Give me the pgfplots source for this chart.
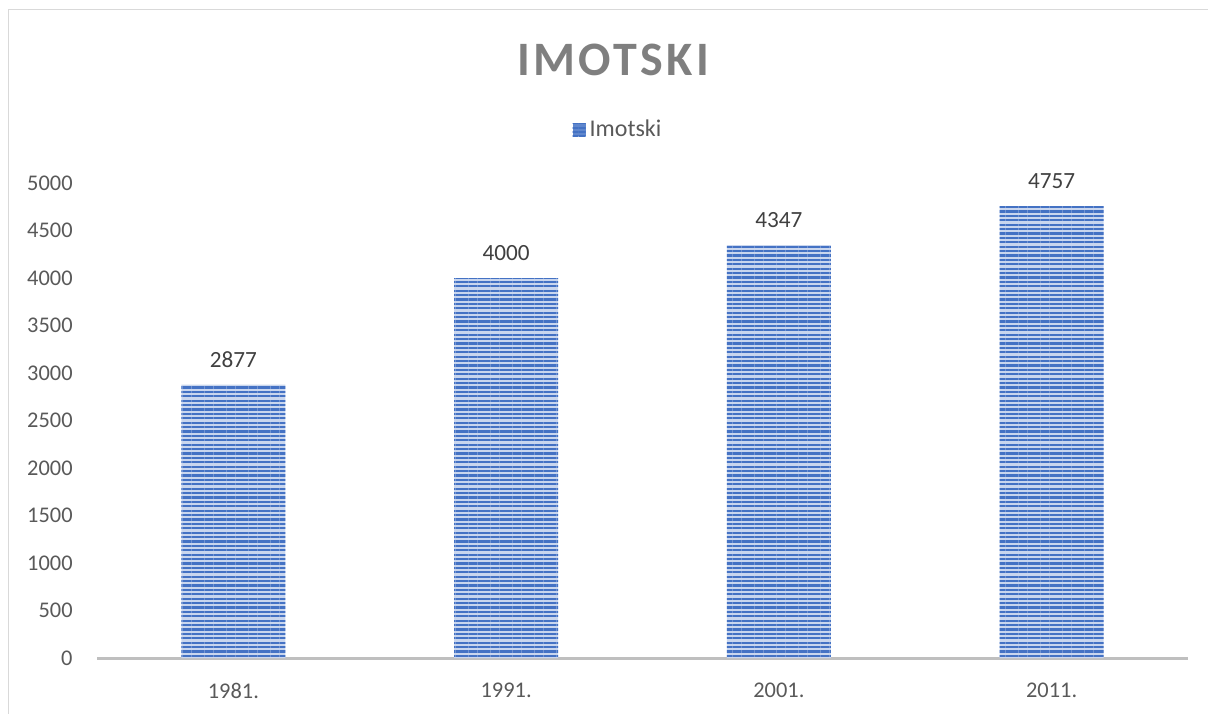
\documentclass[border=0pt]{standalone}
\usepackage{fontspec}
\setmainfont{Carlito}
\usepackage{pgfplots}
\pgfplotsset{compat=1.18}
\usetikzlibrary{patterns.meta}
\definecolor{barblue}{HTML}{4472C4}
\definecolor{barlight}{HTML}{C9D6EE}
\definecolor{tickgray}{HTML}{595959}
\definecolor{labgray}{HTML}{404040}
\definecolor{titlegray}{HTML}{7F7F7F}
\definecolor{axgray}{HTML}{BFBFBF}
\definecolor{framegray}{HTML}{D9D9D9}
\pgfkeys{/pgf/number format/.cd, 1000 sep={}, assume math mode=true}
\tikzset{stripes/.style={fill=barlight, postaction={pattern={Lines[angle=0,distance=2.2pt,line width=1.1pt]}, pattern color=barblue}}}
\begin{document}
\begin{tikzpicture}
\path[use as bounding box] (0,0) rectangle (604pt,356.5pt);
\draw[framegray, line width=0.75pt] (4.25pt,-1pt) -- (4.25pt,351.75pt) -- (605pt,351.75pt);
\node[text=titlegray, font=\fontsize{24}{28}\selectfont\bfseries\addfontfeature{LetterSpace=7}] at (306.5pt,326.5pt) {IMOTSKI};
\begin{axis}[
  at={(48.5pt,27.5pt)}, anchor=south west,
  scale only axis, width=545.5pt, height=237.5pt,
  xmin=-0.5, xmax=3.5, ymin=0, ymax=5000,
  ybar, bar width=52pt, bar shift=0pt,
  axis x line*=bottom, axis y line*=left,
  y axis line style={draw=none},
  x axis line style={draw=axgray, line width=1.5pt, -},
  major tick length=0pt, tick style={draw=none},
  xtick={0,1,2,3}, xticklabels={1981.,1991.,2001.,2011.},
  ytick={0,500,...,5000},
  tick label style={font=\fontsize{11.2}{13}\selectfont, text=tickgray, inner sep=0pt},
  y tick label style={anchor=east, xshift=-12pt},
  x tick label style={anchor=north, yshift=-12.5pt},
  nodes near coords,
  nodes near coords style={font=\fontsize{11.6}{13}\selectfont, text=labgray, anchor=south, inner sep=0pt, yshift=8.5pt},
  legend style={at={(rel axis cs:0.4785,1.1116)}, anchor=center, draw=none, fill=none, font=\fontsize{12}{14}\selectfont, text=tickgray, inner sep=0pt, legend cell align=left},
  legend image code/.code={\fill[fill=barblue!85!white] (0pt,-3.25pt) rectangle (6.5pt,3.25pt);},
  clip=false,
]
\addplot[draw=none, stripes] coordinates {(0,2877) (1,4000) (2,4347) (3,4757)};
\addlegendentry{Imotski}
\end{axis}
\end{tikzpicture}
\end{document}
